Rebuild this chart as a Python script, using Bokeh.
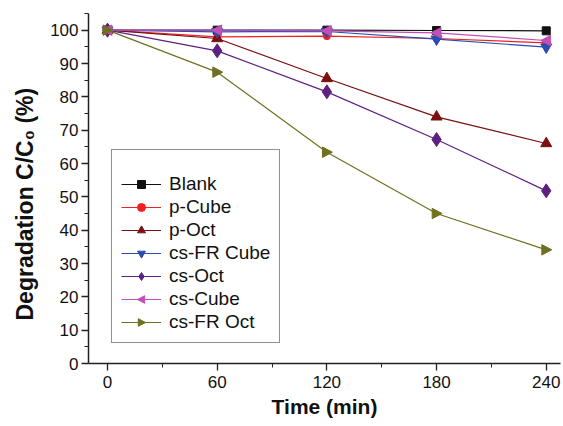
from bokeh.plotting import figure
from bokeh.models import Range1d, FixedTicker, Legend, CustomJS, Title
from bokeh.embed import file_html
from bokeh.resources import INLINE

time_min = [0, 60, 120, 180, 240]
blank = [100, 100, 100, 99.9, 99.8]
p_cube = [100, 98.0, 98.2, 97.5, 96.2]
p_oct = [100, 97.5, 85.5, 74.0, 66.0]
cs_fr_cube = [100, 99.5, 99.6, 97.3, 94.9]
cs_oct = [100, 93.8, 81.5, 67.2, 51.8]
cs_cube = [100, 100, 99.8, 99.2, 96.9]
cs_fr_oct = [100, 87.4, 63.4, 45.0, 34.1]

x_ticks = [0, 60, 120, 180, 240]
y_ticks = [0, 10, 20, 30, 40, 50, 60, 70, 80, 90, 100]

series = [
    ("Blank", blank, "#111111", "square", 8),
    ("p-Cube", p_cube, "#f02020", "circle", 7),
    ("p-Oct", p_oct, "#7a1010", "triangle", 11),
    ("cs-FR Cube", cs_fr_cube, "#2a4db0", "inverted_triangle", 11),
    ("cs-Oct", cs_oct, "#5e2080", "diamond", 14),
    ("cs-Cube", cs_cube, "#c050b8", "@tri_left", 11),
    ("cs-FR Oct", cs_fr_oct, "#6f7020", "@tri_right", 11),
]

TRI_CODE = """
let d = null;
for (const a of arguments) { if (a && a.ctx) { d = a; } }
if (d) {
  const ctx = d.ctx;
  const r = d.r;
  ctx.beginPath();
  ctx.moveTo(-dir * r, 0);
  ctx.lineTo(dir * r * 0.8, -r * 0.95);
  ctx.lineTo(dir * r * 0.8, r * 0.95);
  ctx.closePath();
  ctx.fillStyle = color;
  ctx.fill();
  ctx.strokeStyle = color;
  ctx.lineWidth = 1;
  ctx.stroke();
}
"""

p = figure(width=563, height=424, output_backend="svg", toolbar_location=None,
           x_range=Range1d(-10.4, 247.8), y_range=Range1d(0, 105),
           min_border_left=88, min_border_right=3, min_border_top=13, min_border_bottom=61)
p.outline_line_color = None
p.xgrid.visible = False
p.ygrid.visible = False
p.background_fill_color = "white"
p.border_fill_color = "white"

legend_items = []
for name, vals, color, marker, size in series:
    r1 = p.line(time_min, vals, line_color=color, line_width=1.2)
    kw = {}
    if marker.startswith("@"):
        direction = 1 if marker == "@tri_left" else -1
        kw["defs"] = {marker: CustomJS(args=dict(color=color, dir=direction), code=TRI_CODE)}
    r2 = p.scatter(time_min, vals, marker=marker, size=size,
                   fill_color=color, line_color=color, **kw)
    legend_items.append((name, [r1, r2]))

legend = Legend(items=legend_items, location=(23, 20))
legend.title = " "
legend.title_text_font_size = "9px"
legend.title_standoff = 4
legend.border_line_color = "#222222"
legend.border_line_width = 1.2
legend.label_text_font = "Liberation Sans"
legend.label_text_font_size = "19px"
legend.label_text_color = "#111111"
legend.glyph_height = 20
legend.glyph_width = 40
legend.label_height = 20
legend.spacing = 1
legend.padding = 9
legend.label_standoff = 8
legend.background_fill_alpha = 1
p.add_layout(legend, "center")

for ax in (p.xaxis[0], p.yaxis[0]):
    ax.axis_line_color = "#222222"
    ax.axis_line_width = 1.5
    ax.major_tick_line_color = "#222222"
    ax.minor_tick_line_color = "#222222"
    ax.major_tick_line_width = 1.3
    ax.major_tick_out = 7
    ax.major_tick_in = 0
    ax.minor_tick_out = 4
    ax.minor_tick_in = 0
    ax.major_label_text_font = "Liberation Sans"
    ax.major_label_text_font_size = "17px"
    ax.major_label_text_color = "#111111"
    ax.axis_label_text_font = "Liberation Sans"
    ax.axis_label_text_font_style = "bold"
    ax.axis_label_text_font_size = "21px"
    ax.axis_label_text_color = "#111111"

p.xaxis[0].ticker = FixedTicker(ticks=x_ticks, minor_ticks=[30, 90, 150, 210])
p.yaxis[0].ticker = FixedTicker(ticks=y_ticks, minor_ticks=[5, 15, 25, 35, 45, 55, 65, 75, 85, 95, 105])
p.xaxis[0].axis_label = "Time (min)"
p.xaxis[0].axis_label_standoff = 4
p.xaxis[0].major_label_standoff = 5
p.yaxis[0].major_label_standoff = 3

ytitle = Title(text="Degradation C/C\u2080 (%)", align="left", offset=43, standoff=19,
               text_font="Liberation Sans", text_font_style="bold", text_font_size="23px",
               text_color="#111111")
p.add_layout(ytitle, "left")

open("out.html", "w").write(file_html(p, INLINE))
